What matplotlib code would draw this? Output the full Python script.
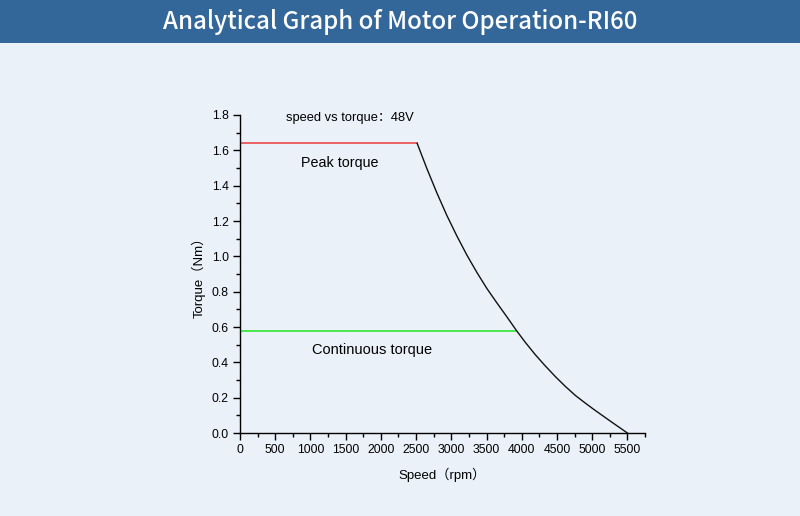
import matplotlib
matplotlib.use('Agg')
import matplotlib.pyplot as plt
from matplotlib.ticker import MultipleLocator

# peak / continuous torque levels
peak_torque = 1.64
peak_end = 2515
cont_torque = 0.58
cont_end = 3925

# speed vs torque drop-off curve
curve_speed = [2515, 2650, 2793, 2935, 3078, 3220, 3363, 3505, 3648, 3790, 3925,
               4051, 4193, 4336, 4478, 4621, 4763, 4900, 5025, 5262, 5500]
curve_torque = [1.64, 1.50, 1.361, 1.233, 1.116, 1.008, 0.909, 0.818, 0.736, 0.657, 0.58,
                0.513, 0.443, 0.379, 0.319, 0.263, 0.212, 0.17, 0.133, 0.066, 0.0]

x_ticks = list(range(0, 5501, 500))
y_ticks = [0.0, 0.2, 0.4, 0.6, 0.8, 1.0, 1.2, 1.4, 1.6, 1.8]

bg = '#ebf1f8'
fonts = ['Liberation Sans', 'Noto Sans CJK SC', 'DejaVu Sans']
plt.rcParams['font.family'] = fonts

fig = plt.figure(figsize=(8, 5.16), dpi=100, facecolor=bg)

# header band
fig.patches.append(plt.Rectangle((0, 1 - 43 / 516), 1, 43 / 516, transform=fig.transFigure,
                                 facecolor='#33679a', edgecolor='none', zorder=0))
fig.text(0.5, 1 - 22 / 516, 'Analytical Graph of Motor Operation-RI60', color='white',
         fontsize=17.3, fontweight='medium', ha='center', va='center',
         family=['Noto Sans CJK JP', 'DejaVu Sans'])

ax = fig.add_axes([0.3, 83 / 516, 405 / 800, 318 / 516])
ax.set_facecolor(bg)

ax.plot([0, peak_end], [peak_torque, peak_torque], color='#ec4a4a', lw=1.2)
ax.plot([0, cont_end], [cont_torque, cont_torque], color='#2ee62e', lw=1.2)
ax.plot(curve_speed, curve_torque, color='#111111', lw=1.0)

ax.set_xlim(0, 5750)
ax.set_ylim(0, 1.8)
ax.set_xticks(x_ticks)
ax.set_yticks(y_ticks)
ax.set_yticklabels([f'{v:.1f}' for v in y_ticks])
ax.xaxis.set_minor_locator(MultipleLocator(250))
ax.yaxis.set_minor_locator(MultipleLocator(0.1))
ax.tick_params(which='major', direction='out', length=5, width=1, labelsize=8.8, pad=3)
ax.tick_params(which='minor', direction='out', length=3, width=1)

for s in ['top', 'right']:
    ax.spines[s].set_visible(False)
for s in ['left', 'bottom']:
    ax.spines[s].set_linewidth(1)

ax.set_xlabel('Speed（rpm）', fontsize=9.5, labelpad=8)
ax.set_ylabel('Torque（Nm）', fontsize=9.5, labelpad=4)

ax.text(660, 1.782, 'speed vs torque：48V', fontsize=9.3, va='center')
ax.text(1410, 1.53, 'Peak torque', fontsize=10.3, ha='center', va='center')
ax.text(1880, 0.47, 'Continuous torque', fontsize=10.5, ha='center', va='center')

fig.savefig('out.png', dpi=100, facecolor=bg)
